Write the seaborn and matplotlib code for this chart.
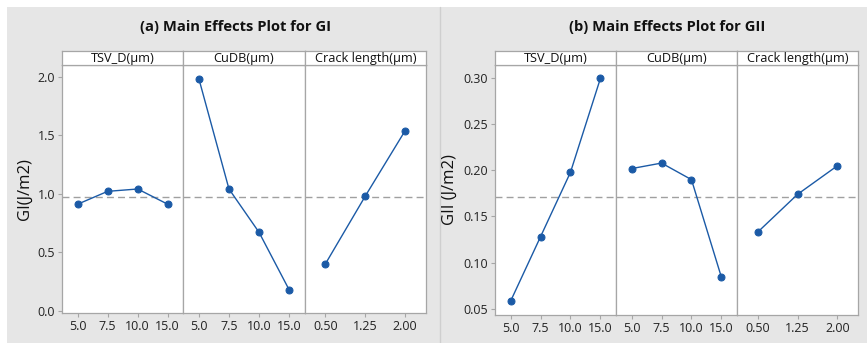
import matplotlib
matplotlib.use("Agg")
import matplotlib.pyplot as plt
import seaborn as sns
import pandas as pd
from matplotlib.patches import Rectangle
from matplotlib.lines import Line2D

# ---- data ----
factors = ["TSV_D(μm)", "CuDB(μm)", "Crack length(μm)"]
tsv_levels = ["5.0", "7.5", "10.0", "15.0"]
cudb_levels = ["5.0", "7.5", "10.0", "15.0"]
crack_levels = ["0.50", "1.25", "2.00"]

gi_tsv = [0.91, 1.02, 1.04, 0.91]
gi_cudb = [1.98, 1.04, 0.67, 0.18]
gi_crack = [0.40, 0.98, 1.54]
gi_mean = 0.97

gii_tsv = [0.058, 0.128, 0.198, 0.300]
gii_cudb = [0.202, 0.208, 0.190, 0.084]
gii_crack = [0.133, 0.174, 0.205]
gii_mean = 0.171

gi_yticks = [0.0, 0.5, 1.0, 1.5, 2.0]
gii_yticks = [0.05, 0.10, 0.15, 0.20, 0.25, 0.30]

sns.set_theme(style="white")
plt.rcParams["font.family"] = ["Open Sans", "DejaVu Sans"]

W, H = 867, 343
fig = plt.figure(figsize=(W / 100, H / 100), dpi=100)
fig.patch.set_facecolor("white")

def fx(px):
    return px / W

def fy(py):
    return 1 - py / H

# gray panel backgrounds
fig.patches.append(Rectangle((fx(7), 0), fx(W - 7), fy(7), transform=fig.transFigure,
                             facecolor="#e6e6e6", edgecolor="none", zorder=-10))
fig.lines.append(Line2D([fx(440), fx(440)], [0, fy(7)], transform=fig.transFigure,
                        color="#cfcfcf", lw=1, zorder=-5))

blue = "#1b5aa6"
spine_c = "#a6a6a6"

def make_panel(x0, x1, ytop, ybot, strip_top, data_sets, levels_list, ylim, yticks, ytfmt,
               mean, ylabel, ylabel_right, title, title_x):
    n = len(data_sets)
    w = (x1 - x0) / n
    for i, (vals, levels) in enumerate(zip(data_sets, levels_list)):
        ax = fig.add_axes([fx(x0 + i * w), fy(ybot), fx(w), (ybot - ytop) / H])
        df = pd.DataFrame({"level": levels, "value": vals})
        sns.pointplot(data=df, x="level", y="value", order=levels, color=blue,
                      markers="o", markersize=5, linewidth=1.0, ax=ax, errorbar=None)
        ax.axhline(mean, color="#a0a0a0", lw=1.0, ls=(0, (5, 3)), zorder=0)
        ax.set_xlim(-0.52, len(levels) - 0.48)
        ax.set_ylim(*ylim)
        ax.set_facecolor("white")
        for s in ax.spines.values():
            s.set_color(spine_c)
            s.set_linewidth(0.9)
        ax.set_xlabel("")
        ax.set_ylabel("")
        ax.set_xticks(range(len(levels)))
        ax.set_xticklabels(levels, fontsize=9, color="#222222")
        ax.tick_params(axis="x", length=3, width=0.8, color=spine_c, pad=2, bottom=True)
        ax.set_yticks(yticks)
        if i == 0:
            ax.set_yticklabels([ytfmt.format(t) for t in yticks], fontsize=9, color="#222222")
            ax.tick_params(axis="y", length=3, width=0.8, color=spine_c, pad=2, left=True)
            ax.set_ylabel(ylabel, fontsize=12, color="#111111")
            ax.yaxis.set_label_coords((ylabel_right - x0) / w, 0.5)
        else:
            ax.tick_params(axis="y", left=False, labelleft=False)
        # strip
        sax = fig.add_axes([fx(x0 + i * w), fy(ytop), fx(w), (ytop - strip_top) / H])
        sax.set_facecolor("white")
        sax.set_xticks([])
        sax.set_yticks([])
        for s in sax.spines.values():
            s.set_color(spine_c)
            s.set_linewidth(0.9)
        sax.text(0.5, 0.45, factors[i], ha="center", va="center", fontsize=9.2,
                 color="#111111", transform=sax.transAxes)
    fig.text(fx(title_x), fy(27), title, ha="center", va="center", fontsize=10.6,
             fontweight="bold", color="#111111")

make_panel(62, 426, 65, 313, 51, [gi_tsv, gi_cudb, gi_crack],
           [tsv_levels, cudb_levels, crack_levels], (-0.02, 2.1), gi_yticks, "{:.1f}",
           gi_mean, "GI(J/m2)", 33, "(a) Main Effects Plot for GI", 236)

make_panel(495, 858, 65, 315, 51, [gii_tsv, gii_cudb, gii_crack],
           [tsv_levels, cudb_levels, crack_levels], (0.043, 0.3145), gii_yticks, "{:.2f}",
           gii_mean, "GII (J/m2)", 458, "(b) Main Effects Plot for GII", 667)

fig.savefig("out.png", dpi=100)
